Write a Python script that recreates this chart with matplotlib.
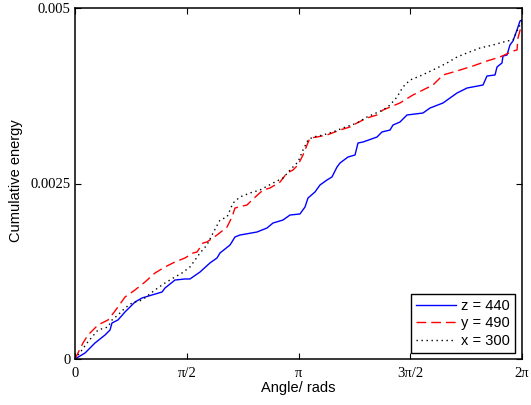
import numpy as np
import matplotlib
matplotlib.use("Agg")
import matplotlib.pyplot as plt

# ---- data (angle in radians, cumulative energy) ----
z_angle = [0, 0.141, 0.281, 0.422, 0.492, 0.520, 0.604, 0.703, 0.801, 0.843, 0.942, 1.082,
           1.223, 1.265, 1.405, 1.546, 1.616, 1.757, 1.897, 1.996, 2.038, 2.179, 2.249, 2.319,
           2.558, 2.699, 2.783, 2.924, 3.022, 3.162, 3.233, 3.275, 3.373, 3.444, 3.542, 3.612,
           3.683, 3.725, 3.837, 3.936, 3.978, 4.048, 4.245, 4.315, 4.428, 4.470, 4.568, 4.667,
           4.891, 4.990, 5.173, 5.271, 5.370, 5.510, 5.735, 5.791, 5.904, 5.932, 6.002, 6.016,
           6.072, 6.114, 6.156, 6.213, 6.255, 6.283]
z_energy = [0, 0.0855, 0.228, 0.342, 0.413, 0.513, 0.556, 0.670, 0.769, 0.812, 0.869, 0.912,
            0.954, 1.011, 1.125, 1.140, 1.140, 1.239, 1.368, 1.439, 1.510, 1.624, 1.738, 1.766,
            1.809, 1.866, 1.937, 1.980, 2.051, 2.066, 2.165, 2.293, 2.379, 2.479, 2.550, 2.593,
            2.735, 2.792, 2.877, 2.906, 3.077, 3.091, 3.162, 3.234, 3.262, 3.333, 3.376, 3.476,
            3.504, 3.575, 3.647, 3.718, 3.789, 3.860, 3.903, 4.031, 4.046, 4.160, 4.217, 4.316,
            4.330, 4.473, 4.530, 4.687, 4.815, 4.829]

y_angle = [0, 0.042, 0.112, 0.183, 0.323, 0.464, 0.520, 0.604, 0.703, 0.843, 0.984, 1.124,
           1.265, 1.405, 1.546, 1.659, 1.715, 1.799, 1.855, 1.996, 2.137, 2.207, 2.249, 2.418,
           2.488, 2.643, 2.741, 2.882, 2.980, 3.064, 3.134, 3.205, 3.261, 3.303, 3.401, 3.542,
           3.725, 3.865, 3.964, 4.104, 4.245, 4.329, 4.568, 4.681, 4.751, 4.891, 5.032, 5.173,
           5.369, 5.594, 5.791, 5.974, 6.157, 6.213, 6.227, 6.283]
y_energy = [0, 0.0855, 0.228, 0.342, 0.484, 0.556, 0.627, 0.741, 0.883, 0.983, 1.097, 1.225,
            1.311, 1.382, 1.439, 1.510, 1.524, 1.652, 1.667, 1.766, 1.880, 2.023, 2.151, 2.194,
            2.265, 2.407, 2.436, 2.521, 2.650, 2.692, 2.764, 2.906, 3.048, 3.148, 3.162, 3.191,
            3.262, 3.305, 3.362, 3.433, 3.476, 3.547, 3.647, 3.718, 3.761, 3.832, 3.903, 4.046,
            4.103, 4.174, 4.245, 4.302, 4.387, 4.402, 4.573, 4.786]

x_angle = [0, 0.098, 0.169, 0.239, 0.323, 0.464, 0.520, 0.604, 0.703, 0.801, 0.942, 1.124,
           1.265, 1.405, 1.504, 1.616, 1.687, 1.757, 1.855, 1.940, 2.038, 2.137, 2.221, 2.319,
           2.460, 2.600, 2.783, 2.924, 3.022, 3.134, 3.205, 3.275, 3.345, 3.486, 3.626, 3.767,
           3.964, 4.104, 4.329, 4.428, 4.526, 4.610, 4.709, 4.849, 5.032, 5.229, 5.369, 5.510,
           5.693, 5.875, 6.072, 6.157, 6.213, 6.283]
x_energy = [0, 0.128, 0.228, 0.313, 0.413, 0.456, 0.556, 0.627, 0.726, 0.798, 0.840, 0.983,
            1.083, 1.168, 1.225, 1.311, 1.410, 1.510, 1.624, 1.795, 1.980, 2.023, 2.222, 2.308,
            2.365, 2.407, 2.507, 2.578, 2.692, 2.806, 2.977, 3.120, 3.162, 3.191, 3.234, 3.291,
            3.362, 3.447, 3.547, 3.618, 3.732, 3.875, 3.974, 4.031, 4.117, 4.217, 4.302, 4.359,
            4.430, 4.473, 4.530, 4.544, 4.672, 4.815]

energy_scale = 1e-3  # energies above are in units of 1e-3

series_labels = ["z = 440", "y = 490", "x = 300"]

x_tick_values = [0, np.pi / 2, np.pi, 3 * np.pi / 2, 2 * np.pi]
x_tick_labels = ["0", "π/2", "π", "3π/2", "2π"]
y_tick_values = [0, 0.0025, 0.005]
y_tick_labels = ["0", "0.0025", "0.005"]

# ---- figure ----
W, H = 531, 405
fig = plt.figure(figsize=(W / 100, H / 100), dpi=100)
ax = fig.add_axes([75 / W, 46 / H, 447 / W, 351 / H])

ax.plot(z_angle, np.array(z_energy) * energy_scale, color="#0000ff", lw=1.0,
        label=series_labels[0])
ax.plot(y_angle, np.array(y_energy) * energy_scale, color="#ff0000", lw=1.0,
        dashes=(7, 3.6), label=series_labels[1])
ax.plot(x_angle, np.array(x_energy) * energy_scale, color="#000000", lw=1.0,
        dashes=(1, 2.6), label=series_labels[2])

ax.set_xlim(0, 2 * np.pi)
ax.set_ylim(0, 0.005)

serif = "Liberation Serif"
sans = "Liberation Sans"

ax.set_xticks(x_tick_values)
ax.set_xticklabels(x_tick_labels, fontfamily=serif, fontsize=10.5)
ax.set_yticks(y_tick_values)
ax.set_yticklabels(y_tick_labels, fontfamily=serif, fontsize=10.5)
ax.tick_params(direction="in", length=4, width=0.8, top=True, right=True, color="black")
ax.tick_params(axis="x", pad=6)
ax.tick_params(axis="y", pad=3)

for s in ax.spines.values():
    s.set_linewidth(1.1)
    s.set_color("black")

fig.text(298 / W, 1 - 388 / H, "Angle/ rads", ha="center", va="center",
         fontfamily=sans, fontsize=10.5)
fig.text(16 / W, 1 - 181 / H, "Cumulative energy", ha="center", va="center",
         rotation=90, fontfamily=sans, fontsize=10.5)

leg = ax.legend(loc="lower right", bbox_to_anchor=(0.985, 0.017), borderaxespad=0,
                prop={"family": sans, "size": 10.5}, fancybox=False, framealpha=1,
                edgecolor="black", handlelength=2.75, handletextpad=0.35,
                labelspacing=0.25, borderpad=0.35)
leg.get_frame().set_linewidth(1.0)

fig.savefig("out.png", dpi=100)
